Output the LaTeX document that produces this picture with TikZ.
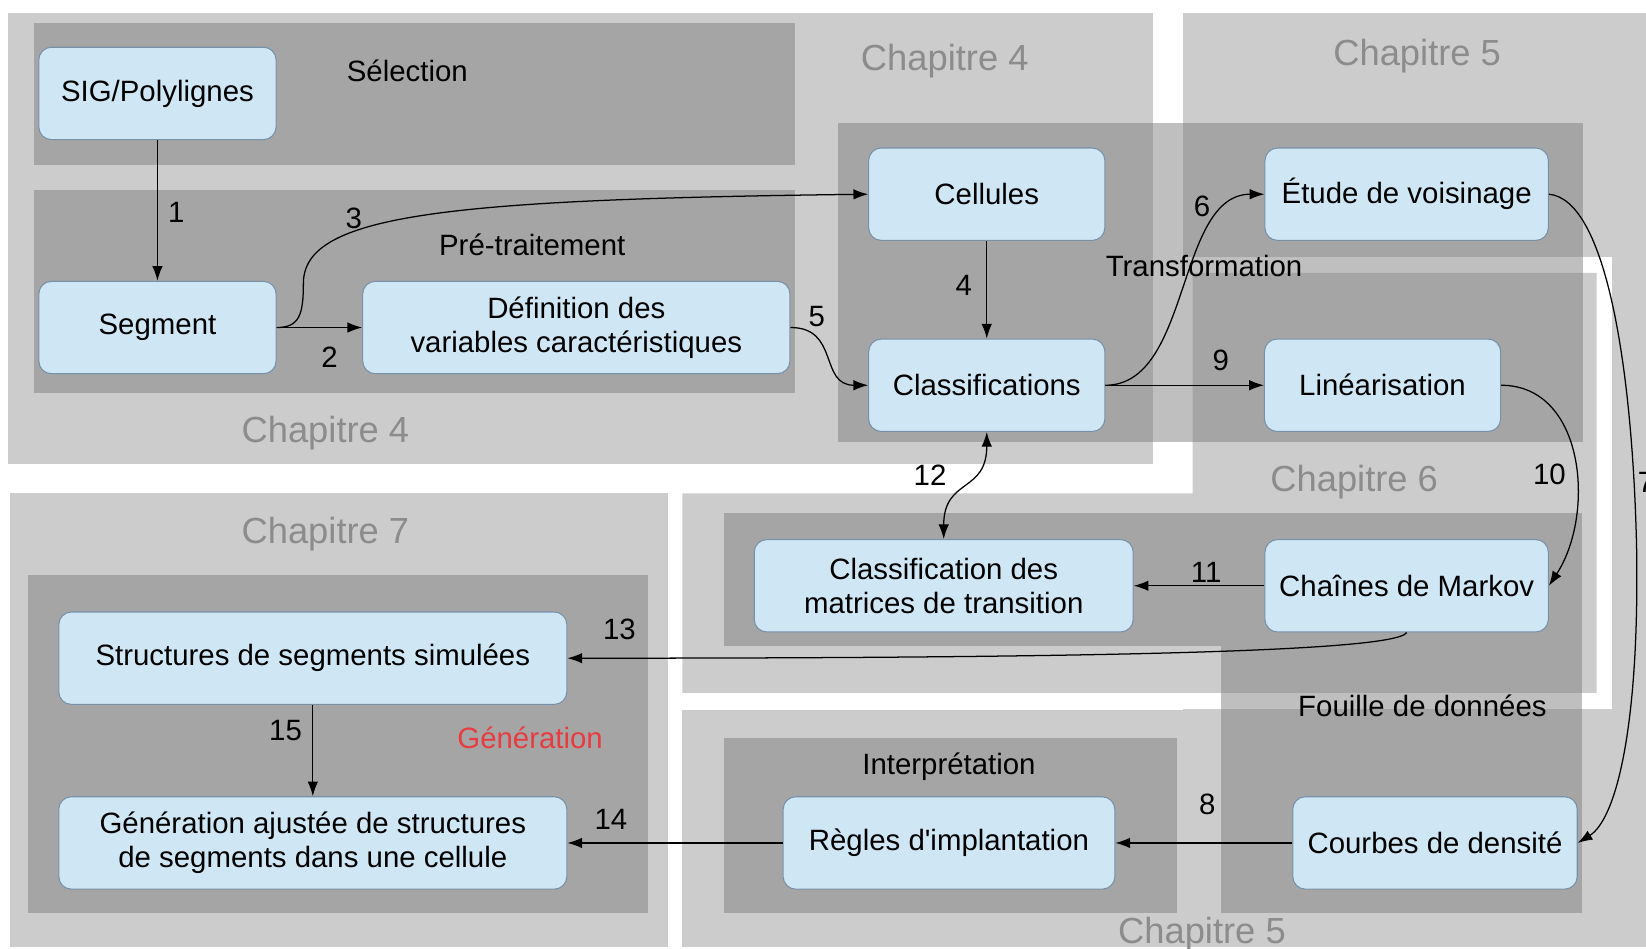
\documentclass[tikz,border=0pt]{standalone}
\usepackage{fontspec}
\setmainfont{Liberation Sans}
\usetikzlibrary{arrows.meta}
\definecolor{fondbleu}{RGB}{207,231,245}
\definecolor{bordbleu}{RGB}{120,145,170}
\definecolor{rougegen}{RGB}{232,60,64}

\begin{document}
\begin{tikzpicture}[x=0.5pt, y=-0.5pt, >={Latex[length=7pt,width=5pt]},
  boite/.style={draw=bordbleu, fill=fondbleu, rounded corners=6pt, line width=0.5pt,
    minimum height=44pt, align=center, inner sep=2pt, font=\fontsize{14}{16}\selectfont},
  clair/.style={fill=black!20},
  fonce/.style={fill=black!50, fill opacity=0.5},
  chapitre/.style={text=black!45, font=\fontsize{17.3}{20}\selectfont},
  etape/.style={font=\fontsize{14}{16}\selectfont},
  num/.style={font=\fontsize{14}{16}\selectfont, inner sep=1pt},
  fleche/.style={->, line width=0.6pt}]
\useasboundingbox (0,0) rectangle (1568,904);

% chapitres
\fill[clair] (1127,12) rectangle (1590,902);
\fill[clair] (650,676) rectangle (1590,902);
\fill[clair] (8,12) rectangle (1098,442);
\filldraw[white, line width=15pt] (650,470) -- (1136,470) -- (1136,260) -- (1521,260) -- (1521,660) -- (650,660) -- cycle;
\fill[clair] (650,470) -- (1136,470) -- (1136,260) -- (1521,260) -- (1521,660) -- (650,660) -- cycle;
\fill[clair] (10,470) rectangle (636,902);

% etapes
\fill[fonce] (32,22) rectangle (757,157);
\fill[fonce] (32,181) rectangle (757,374);
\fill[fonce] (798,117) rectangle (1508,421);
\fill[fonce] (690,489) rectangle (1507,615);
\fill[fonce] (1163,615) rectangle (1507,870);
\fill[fonce] (690,703) rectangle (1121,870);
\fill[fonce] (27,548) rectangle (617,870);

\node[chapitre] (ch4a) at (900,58) {Chapitre 4};
\node[chapitre] (ch4b) at (310,413) {Chapitre 4};
\node[chapitre] (ch5a) at (1350,53) {Chapitre 5};
\node[chapitre] (ch5b) at (1145,890) {Chapitre 5};
\node[chapitre] (ch6) at (1290,459) {Chapitre 6};
\node[chapitre] (ch7) at (310,509) {Chapitre 7};

\node[etape] (selection) at (388,67) {Sélection};
\node[etape] (pretraitement) at (507,233) {Pré-traitement};
\node[etape] (transformation) at (1147,253) {Transformation};
\node[etape] (fouille) at (1355,672) {Fouille de données};
\node[etape] (interpretation) at (904,730) {Interprétation};
\node[etape, text=rougegen] (generation) at (505,703) {Génération};

% boites
\node[boite, minimum width=113pt] (sig) at (150,89) {SIG/Polylignes};
\node[boite, minimum width=113pt] (seg) at (150,312) {Segment};
\node[boite, minimum width=203.5pt] (def) at (549,312) {Définition des\\variables caractéristiques};
\node[boite, minimum width=112.5pt] (cel) at (940,185) {Cellules};
\node[boite, minimum width=112.5pt] (cls) at (940,367) {Classifications};
\node[boite, minimum width=135pt] (etu) at (1340,185) {Étude de voisinage};
\node[boite, minimum width=112.5pt] (lin) at (1317,367) {Linéarisation};
\node[boite, minimum width=180.5pt] (mat) at (899,558) {Classification des\\matrices de transition};
\node[boite, minimum width=135pt] (mar) at (1340,558) {Chaînes de Markov};
\node[boite, minimum width=242pt] (str) at (298,627) {Structures de segments simulées};
\node[boite, minimum width=242pt] (gen) at (298,803) {Génération ajustée de structures\\de segments dans une cellule};
\node[boite, minimum width=158pt] (reg) at (904,803) {Règles d\textquotesingle implantation};
\node[boite, minimum width=135.5pt] (cou) at (1367,803) {Courbes de densité};

% fleches
\draw[fleche] (sig) -- (seg);
\draw[fleche] (seg) -- (def);
\draw[fleche] (seg.east) .. controls (285,312) and (289,300) .. (289,270) .. controls (289,205) and (420,190) .. (cel.west);
\draw[fleche] (cel) -- (cls);
\draw[fleche] (def.east) .. controls (800,312) and (780,367) .. (cls.west);
\draw[fleche] (cls.east) .. controls (1135,367) and (1120,185) .. (etu.west);
\draw[fleche] (etu.east) .. controls (1530,190) and (1555,350) .. (1559,520) .. controls (1562,690) and (1540,780) .. (cou.east);
\draw[fleche] (cou) -- (reg);
\draw[fleche] (cls) -- (lin);
\draw[fleche] (lin.east) .. controls (1510,367) and (1520,490) .. (mar.east);
\draw[fleche] (mar) -- (mat);
\draw[<->, line width=0.6pt] (cls.south) .. controls (940,470) and (899,455) .. (mat.north);
\draw[fleche] (mar.south) .. controls (1330,622) and (1000,627) .. (str.east);
\draw[fleche] (reg) -- (gen);
\draw[fleche] (str) -- (gen);

\foreach \n/\x/\y in {1/168/202, 2/314/340, 3/337/208, 4/918/272, 5/778/302, 6/1145/197,
  7/1568/460, 8/1150/766, 9/1163/343, 10/1476/452, 11/1149/545, 12/886/453,
  13/590/600, 14/582/781, 15/272/696}
  \node[num] (n\n) at (\x,\y) {\n};

\end{tikzpicture}
\end{document}
